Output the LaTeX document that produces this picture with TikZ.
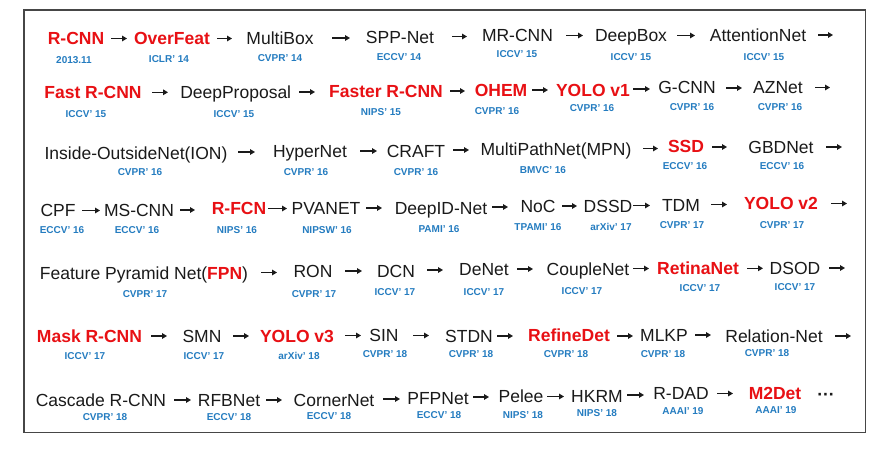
\documentclass[tikz,border=0pt]{standalone}
\usepackage{fontspec}
\setmainfont{Liberation Sans}
\usetikzlibrary{arrows.meta}
\definecolor{txt}{RGB}{26,26,26}
\definecolor{rd}{RGB}{232,16,20}
\definecolor{blu}{RGB}{36,124,192}
\definecolor{frame}{RGB}{70,70,70}
\newcommand{\arw}[4]{\coordinate (#1s) at (#2,#4); \coordinate (#1e) at (#3,#4); \draw[arw] (#1s) -- (#1e);}
\begin{document}
\begin{tikzpicture}[x=1pt,y=-1pt,
  nm/.style={font=\fontsize{17.5}{20}\selectfont, text=txt, text height=12.5pt, text depth=0pt, inner sep=0pt},
  rn/.style={font=\fontsize{17.5}{20}\selectfont\bfseries, text=rd, text height=12.5pt, text depth=0pt, inner sep=0pt},
  lb/.style={font=\fontsize{10}{12}\selectfont\bfseries, text=blu, text height=7.2pt, text depth=0pt, inner sep=0pt},
  arw/.style={-{Triangle[length=5pt,width=5.6pt]}, line width=1.15pt, draw=txt}]
\useasboundingbox (0,0) rectangle (891,455);
\fill[white] (0,0) rectangle (891,455);
\draw[frame, line width=1.5pt] (24,10) rectangle (865.5,432.5);
% Row 1
\node[rn] (n11) at (76,38.5) {R-CNN};
\node[rn] (n12) at (172,38.5) {OverFeat};
\node[nm] (n13) at (280,38) {MultiBox};
\node[nm] (n14) at (400,37.3) {SPP-Net};
\node[nm] (n15) at (517.5,35.5) {MR-CNN};
\node[nm] (n16) at (631,35.5) {DeepBox};
\node[nm] (n17) at (758,35) {AttentionNet};
\arw{a11}{111}{127}{38.5}
\arw{a12}{217}{232}{38.5}
\arw{a13}{332}{350}{38}
\arw{a14}{452}{467}{36.5}
\arw{a15}{566}{583}{35.5}
\arw{a16}{677}{695}{35.5}
\arw{a17}{818}{833}{35}
\node[lb] (l11) at (74,59.5) {2013.11};
\node[lb] (l12) at (169,59.3) {ICLR’ 14};
\node[lb] (l13) at (280,57.7) {CVPR’ 14};
\node[lb] (l14) at (399,57.3) {ECCV’ 14};
\node[lb] (l15) at (517,54.3) {ICCV’ 15};
\node[lb] (l16) at (631,57) {ICCV’ 15};
\node[lb] (l17) at (764,56.5) {ICCV’ 15};
% Row 2
\node[rn] (n21) at (93,92.3) {Fast R-CNN};
\node[nm] (n22) at (235.7,92.3) {DeepProposal};
\node[rn] (n23) at (386,91.7) {Faster R-CNN};
\node[rn] (n24) at (501,90) {OHEM};
\node[rn] (n25) at (593,90) {YOLO v1};
\node[nm] (n26) at (687,87.7) {G-CNN};
\node[nm] (n27) at (778,87.7) {AZNet};
\arw{a21}{152}{168}{92.3}
\arw{a22}{299}{315}{92}
\arw{a23}{450}{465}{91}
\arw{a24}{532}{548}{90}
\arw{a25}{633}{650}{89}
\arw{a26}{726}{742}{88}
\arw{a27}{815}{830}{87.5}
\node[lb] (l21) at (86,114) {ICCV’ 15};
\node[lb] (l22) at (234,114) {ICCV’ 15};
\node[lb] (l23) at (381,111.7) {NIPS’ 15};
\node[lb] (l24) at (497,111) {CVPR’ 16};
\node[lb] (l25) at (592,108) {CVPR’ 16};
\node[lb] (l26) at (692,107) {CVPR’ 16};
\node[lb] (l27) at (780,107) {CVPR’ 16};
% Row 3
\node[nm] (n31) at (136,153.3) {Inside-OutsideNet(ION)};
\node[nm] (n32) at (310,151) {HyperNet};
\node[nm] (n33) at (416,151) {CRAFT};
\node[nm] (n34) at (556,149.3) {MultiPathNet(MPN)};
\node[rn] (n35) at (686,146.7) {SSD};
\node[nm] (n36) at (781,147) {GBDNet};
\arw{a31}{238}{255}{152}
\arw{a32}{360}{377}{151}
\arw{a33}{453}{469}{150}
\arw{a34}{643}{658}{148.5}
\arw{a35}{712}{727}{147}
\arw{a36}{826}{842}{147}
\node[lb] (l31) at (140,172.3) {CVPR’ 16};
\node[lb] (l32) at (306,172) {CVPR’ 16};
\node[lb] (l33) at (416,172) {CVPR’ 16};
\node[lb] (l34) at (543,170) {BMVC’ 16};
\node[lb] (l35) at (685,166) {ECCV’ 16};
\node[lb] (l36) at (782,166) {ECCV’ 16};
% Row 4
\node[nm] (n41) at (58,210.7) {CPF};
\node[nm] (n42) at (139,210.7) {MS-CNN};
\node[rn] (n43) at (239,208.3) {R-FCN};
\node[nm] (n44) at (326,208.3) {PVANET};
\node[nm] (n45) at (441,208) {DeepID-Net};
\node[nm] (n46) at (538,206) {NoC};
\node[nm] (n47) at (608,206) {DSSD};
\node[nm] (n48) at (681,205) {TDM};
\node[rn] (n49) at (781,203.3) {YOLO v2};
\arw{a41}{82}{100}{210.5}
\arw{a42}{180}{195}{210}
\arw{a43}{268}{287}{208.5}
\arw{a44}{366}{382}{208}
\arw{a45}{492}{508}{207}
\arw{a46}{562}{577}{206}
\arw{a47}{633}{650}{205.5}
\arw{a48}{711}{727}{204.5}
\arw{a49}{831}{847}{203.5}
\node[lb] (l41) at (62,230) {ECCV’ 16};
\node[lb] (l42) at (137,230) {ECCV’ 16};
\node[lb] (l43) at (237,230) {NIPS’ 16};
\node[lb] (l44) at (327,230) {NIPSW’ 16};
\node[lb] (l45) at (439,229) {PAMI’ 16};
\node[lb] (l46) at (538,226.7) {TPAMI’ 16};
\node[lb] (l47) at (611,226.7) {arXiv’ 17};
\node[lb] (l48) at (682,225) {CVPR’ 17};
\node[lb] (l49) at (782,225) {CVPR’ 17};
% Row 5
\node[nm] (n51) at (144,273.3) {Feature Pyramid Net(\textcolor{rd}{\bfseries FPN})};
\node[nm] (n52) at (313,271) {RON};
\node[nm] (n53) at (396,271) {DCN};
\node[nm] (n54) at (484,269) {DeNet};
\node[nm] (n55) at (588,269) {CoupleNet};
\node[rn] (n56) at (698,268.3) {RetinaNet};
\node[nm] (n57) at (795,268.3) {DSOD};
\arw{a51}{261}{277}{272.5}
\arw{a52}{345}{362}{271}
\arw{a53}{427}{443}{270}
\arw{a54}{517}{533}{269}
\arw{a55}{633}{649}{268.5}
\arw{a56}{747}{763}{268.3}
\arw{a57}{829}{845}{268}
\node[lb] (l51) at (145,294) {CVPR’ 17};
\node[lb] (l52) at (314,294) {CVPR’ 17};
\node[lb] (l53) at (395,292) {ICCV’ 17};
\node[lb] (l54) at (484,291.7) {ICCV’ 17};
\node[lb] (l55) at (582,291) {ICCV’ 17};
\node[lb] (l56) at (700,287.7) {ICCV’ 17};
\node[lb] (l57) at (795,287) {ICCV’ 17};
% Row 6
\node[rn] (n61) at (89.5,336) {Mask R-CNN};
\node[nm] (n62) at (202,336) {SMN};
\node[rn] (n63) at (297,336) {YOLO v3};
\node[nm] (n64) at (384,335) {SIN};
\node[nm] (n65) at (469,336) {STDN};
\node[rn] (n66) at (569,335) {RefineDet};
\node[nm] (n67) at (664,335) {MLKP};
\node[nm] (n68) at (774,336) {Relation-Net};
\arw{a61}{151}{167}{336}
\arw{a62}{233}{249}{336}
\arw{a63}{345}{361}{335.5}
\arw{a64}{413}{429}{335.5}
\arw{a65}{497}{513}{336}
\arw{a66}{617}{633}{336}
\arw{a67}{695}{711}{335}
\arw{a68}{835}{851}{336}
\node[lb] (l61) at (85,356) {ICCV’ 17};
\node[lb] (l62) at (204,356) {ICCV’ 17};
\node[lb] (l63) at (299,356) {arXiv’ 18};
\node[lb] (l64) at (385,354) {CVPR’ 18};
\node[lb] (l65) at (471,354) {CVPR’ 18};
\node[lb] (l66) at (566,354) {CVPR’ 18};
\node[lb] (l67) at (663,354) {CVPR’ 18};
\node[lb] (l68) at (767,353) {CVPR’ 18};
% Row 7
\node[nm] (n71) at (101,400) {Cascade R-CNN};
\node[nm] (n72) at (229,400) {RFBNet};
\node[nm] (n73) at (334,400) {CornerNet};
\node[nm] (n74) at (438,398) {PFPNet};
\node[nm] (n75) at (521,396.7) {Pelee};
\node[nm] (n76) at (597,396) {HKRM};
\node[nm] (n77) at (681,393.3) {R-DAD};
\node[rn] (n78) at (775,393) {M2Det};
\node[font=\fontsize{17.5}{20}\selectfont\bfseries, text=txt, inner sep=0pt] (n79) at (826,397) {···};
\arw{a71}{174}{191}{400}
\arw{a72}{266}{282}{400}
\arw{a73}{383}{400}{399}
\arw{a74}{473}{489}{397}
\arw{a75}{547}{564}{396.5}
\arw{a76}{627}{644}{395}
\arw{a77}{717}{733}{393.5}
\node[lb] (l71) at (105,417) {CVPR’ 18};
\node[lb] (l72) at (229,417) {ECCV’ 18};
\node[lb] (l73) at (329,416) {ECCV’ 18};
\node[lb] (l74) at (439,415) {ECCV’ 18};
\node[lb] (l75) at (523,415) {NIPS’ 18};
\node[lb] (l76) at (597,413) {NIPS’ 18};
\node[lb] (l77) at (683,411) {AAAI’ 19};
\node[lb] (l78) at (776,410) {AAAI’ 19};
\end{tikzpicture}
\end{document}
